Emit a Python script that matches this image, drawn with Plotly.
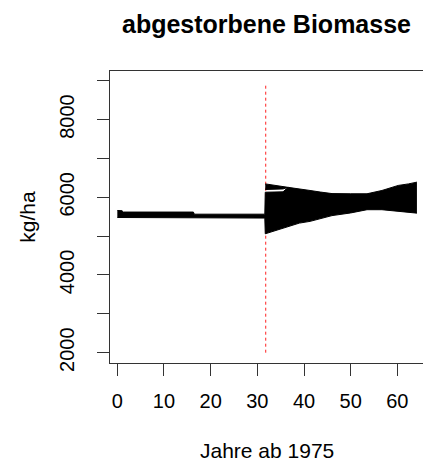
import plotly.graph_objects as go

# Jahre ab 1975 und Hüllkurven der abgestorbenen Biomasse (kg/ha)
jahr = [0, 1.0, 1.3, 16.3, 16.5, 31.6, 31.7, 34.0, 35.5, 36.6, 39.0, 41.3,
        43.5, 46.0, 50.0, 53.5, 56.7, 60.2, 62.4, 63.2, 64.2]
oben = [5660, 5655, 5620, 5620, 5565, 5565, 6345, 6300, 6280, 6255, 6220, 6175,
        6135, 6095, 6090, 6090, 6175, 6305, 6345, 6365, 6390]
koerper_oben = [5660, 5655, 5620, 5620, 5565, 5565, 6130, 6130, 6140, 6255, 6220, 6175,
                6135, 6095, 6090, 6090, 6175, 6305, 6345, 6365, 6390]
unten = [5480, 5480, 5480, 5480, 5465, 5465, 5060, 5150, 5200, 5245, 5335, 5380,
         5450, 5528, 5597, 5680, 5680, 5640, 5597, 5592, 5592]

# einzelne Spitzenwerte kurz nach dem Umstieg
jahr_spitze = [31.7, 34.0, 35.5, 36.6]
spitze_oben = [6345, 6300, 6280, 6255]
spitze_unten = [6200, 6200, 6215, 6255]

# Markierung des Umstiegs
jahr_marke = [31.8, 31.8]
wert_marke = [2000, 8900]

x_ticks = [0, 10, 20, 30, 40, 50, 60]
y_ticks = [2000, 3000, 4000, 5000, 6000, 7000, 8000, 9000]
y_labels = ["2000", "", "4000", "", "6000", "", "8000", ""]

FONT = "Liberation Sans, Arial, sans-serif"
AX = "#333333"

fig = go.Figure()

fig.add_trace(go.Scatter(x=jahr_marke, y=wert_marke, mode="lines",
                         line=dict(color="#ff2020", width=1, dash="dot")))

fig.add_trace(go.Scatter(x=jahr, y=unten, mode="lines",
                         line=dict(color="black", width=1)))
fig.add_trace(go.Scatter(x=jahr, y=koerper_oben, mode="lines", fill="tonexty",
                         fillcolor="black", line=dict(color="black", width=1)))

fig.add_trace(go.Scatter(x=jahr_spitze, y=spitze_unten, mode="lines",
                         line=dict(color="black", width=1)))
fig.add_trace(go.Scatter(x=jahr_spitze, y=spitze_oben, mode="lines", fill="tonexty",
                         fillcolor="black", line=dict(color="black", width=1)))

# x-Achsentitel frei unterhalb der Achse platziert
fig.add_annotation(text="Jahre ab 1975", xref="paper", yref="paper",
                   x=0.5, y=-0.298, xanchor="center", yanchor="middle",
                   showarrow=False, borderpad=0, font=dict(size=21))

fig.update_layout(
    width=423, height=462,
    margin=dict(l=110, r=0, t=71, b=99, autoexpand=False),
    paper_bgcolor="white", plot_bgcolor="white",
    showlegend=False,
    font=dict(family=FONT, size=20, color="black"),
    title=dict(text="<b>abgestorbene Biomasse</b>", font=dict(size=25),
               x=0.5, xref="paper", xanchor="center",
               y=1 - 24 / 462, yref="container", yanchor="middle"),
    xaxis=dict(range=[-1.57, 65.5], tickvals=x_ticks, ticks="outside", ticklen=12,
               tickcolor=AX, showline=True, linecolor=AX, linewidth=1, mirror=True,
               showgrid=False, zeroline=False, ticklabelstandoff=8, automargin=False),
    yaxis=dict(range=[1735, 9250], tickvals=y_ticks, ticktext=y_labels,
               tickangle=-90, ticks="outside", ticklen=12, tickcolor=AX,
               showline=True, linecolor=AX, linewidth=1, mirror=False,
               showgrid=False, zeroline=False, ticklabelstandoff=15, automargin=False,
               title=dict(text="kg/ha", font=dict(size=21), standoff=14)),
)

fig.write_html("out.html")
